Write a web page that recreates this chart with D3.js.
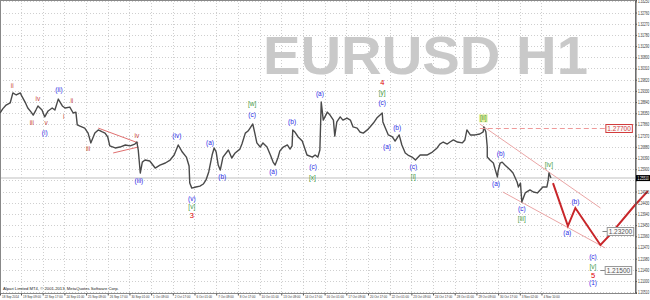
<!DOCTYPE html>
<html>
<head>
<meta charset="utf-8">
<script src="https://cdnjs.cloudflare.com/ajax/libs/d3/7.8.5/d3.min.js"></script>
<style>
body { margin: 0; background: #fff; }
svg { display: block; font-family: "Liberation Sans", Arial, sans-serif; }
</style>
</head>
<body>
<div id="chart"></div>
<script>
// EURUSD H1, bar index (hours since 18 Sep 2014) and close
let eurusd = [[0,1.2836],[4,1.2854],[9,1.2871],[15,1.2880],[19,1.2924],[24,1.2915],[30,1.2924],[32,1.2911],[37,1.2884],[41,1.2858],[46,1.2840],[49,1.2827],[53,1.2849],[56,1.2867],[62,1.2849],[66,1.2819],[71,1.2845],[77,1.2858],[81,1.2849],[86,1.2897],[92,1.2867],[96,1.2858],[103,1.2862],[108,1.2836],[112,1.2840],[114,1.2784],[118,1.2779],[125,1.2770],[130,1.2748],[134,1.2705],[140,1.2748],[145,1.2762],[151,1.2753],[155,1.2748],[159,1.2731],[162,1.2692],[170,1.2683],[177,1.2687],[185,1.2696],[192,1.2692],[199,1.2700],[202,1.2709],[204,1.2674],[207,1.2573],[210,1.2621],[214,1.2630],[221,1.2626],[229,1.2595],[236,1.2608],[244,1.2617],[251,1.2630],[257,1.2652],[263,1.2696],[269,1.2665],[275,1.2643],[279,1.2604],[280,1.2529],[283,1.2507],[289,1.2512],[295,1.2516],[300,1.2525],[304,1.2543],[308,1.2578],[313,1.2652],[316,1.2683],[319,1.2665],[322,1.2608],[325,1.2586],[329,1.2643],[337,1.2674],[342,1.2639],[347,1.2661],[354,1.2678],[357,1.2700],[362,1.2748],[366,1.2757],[369,1.2770],[373,1.2788],[376,1.2748],[379,1.2705],[384,1.2687],[388,1.2705],[394,1.2687],[399,1.2652],[403,1.2621],[406,1.2608],[410,1.2639],[413,1.2670],[418,1.2687],[424,1.2696],[428,1.2678],[431,1.2692],[432,1.2762],[435,1.2753],[440,1.2731],[446,1.2713],[450,1.2678],[453,1.2652],[461,1.2643],[465,1.2652],[469,1.2643],[472,1.2674],[474,1.2884],[477,1.2805],[483,1.2840],[487,1.2827],[492,1.2805],[494,1.2735],[497,1.2797],[502,1.2819],[506,1.2805],[512,1.2814],[517,1.2805],[521,1.2775],[527,1.2770],[531,1.2753],[536,1.2748],[542,1.2762],[546,1.2775],[551,1.2792],[556,1.2814],[564,1.2836],[565,1.2797],[568,1.2775],[573,1.2740],[579,1.2731],[583,1.2713],[589,1.2740],[593,1.2696],[598,1.2661],[602,1.2652],[608,1.2643],[613,1.2630],[620,1.2652],[630,1.2652],[638,1.2665],[645,1.2683],[649,1.2700],[654,1.2709],[660,1.2700],[664,1.2709],[669,1.2718],[675,1.2709],[682,1.2705],[686,1.2718],[689,1.2762],[694,1.2740],[701,1.2740],[708,1.2744],[713,1.2753],[714,1.2775],[717,1.2753],[719,1.2687],[719,1.2643],[723,1.2630],[728,1.2617],[731,1.2586],[734,1.2556],[735,1.2582],[738,1.2617],[741,1.2621],[745,1.2608],[753,1.2586],[757,1.2573],[763,1.2534],[765,1.2512],[768,1.2529],[770,1.2446],[775,1.2486],[782,1.2499],[787,1.2490],[793,1.2486],[797,1.2499],[801,1.2512],[807,1.2512],[809,1.2543],[810,1.2573],[813,1.2551]];

// projected path (red)
let projection = [[816,1.2529],[838,1.2341],[849,1.2420],[886,1.2258],[900,1.2302],[937,1.2433],[956,1.2494]];

// trend lines: [bar1, price1, bar2, price2]
let channelLines = [[708,1.2788,886,1.2420],[742,1.2490,893,1.2245]];
let triangleLines = [[145,1.2770,204,1.2705],[167,1.2661,204,1.2687]];

// target levels
let levelPrices = [1.27700, 1.23200, 1.21500];
let levelStart = [708, 889, 886];
let levelBoxAt = [894, 896, 893];

// wave labels: bar, price, text, degree
let waveBars = [18,47,56,68,66,87,94,106,130,202,205,261,283,283,283,310,328,372,372,403,431,462,461,472,564,564,564,571,586,610,610,713,732,739,770,770,810,837,849,875,875,875,875];
let wavePrices = [1.2954,1.2792,1.2897,1.2792,1.2748,1.2937,1.2819,1.2889,1.2678,1.2735,1.2538,1.2735,1.2459,1.2424,1.2389,1.2705,1.2556,1.2876,1.2827,1.2578,1.2797,1.2600,1.2551,1.2919,1.2972,1.2924,1.2880,1.2687,1.2770,1.2600,1.2556,1.2814,1.2525,1.2656,1.2416,1.2372,1.2608,1.2310,1.2446,1.2205,1.2162,1.2127,1.2091];
let waveTexts = ["ii","iii","iv","v","(i)","(ii)","i","ii","iii","iv","(iii)","(iv)","(v)","[v]","3","(a)","(b)","[w]","(c)","(a)","(b)","(c)","[x]","(a)","4","[y]","(c)","(a)","(b)","(c)","[i]","[ii]","(a)","(b)","(c)","[iii]","[iv]","(a)","(b)","(c)","[v]","5","(1)"];
let waveDegrees = ["sub","sub","sub","sub","minute","minute","sub","sub","sub","sub","minute","minute","minute","minor","inter","minute","minute","minor","minute","minute","minute","minute","minor","minute","inter","minor","minute","minute","minute","minute","minor","minor","minute","minute","minute","minor","minor","minute","minute","minute","minor","inter","minute"];
let selectedLabel = "[ii]";

let priceTicks = [1.33250,1.32760,1.32270,1.31780,1.31290,1.30800,1.30310,1.29820,1.29330,1.28840,1.28350,1.27860,1.27370,1.26880,1.26390,1.25900,1.25410,1.24920,1.24430,1.23940,1.23450,1.22960,1.22470,1.21980,1.21490,1.21000,1.20510];
let timeLabels = ["18 Sep 2014","19 Sep 09:00","22 Sep 17:00","24 Sep 01:00","25 Sep 09:00","26 Sep 17:00","30 Sep 01:00","1 Oct 09:00","2 Oct 17:00","6 Oct 01:00","7 Oct 09:00","8 Oct 17:00","10 Oct 01:00","13 Oct 09:00","14 Oct 17:00","16 Oct 01:00","17 Oct 09:00","20 Oct 17:00","22 Oct 01:00","23 Oct 09:00","24 Oct 17:00","28 Oct 01:00","29 Oct 09:00","30 Oct 17:00","3 Nov 02:00","4 Nov 10:00"];
let timeTickBars = timeLabels.map(function (d, i) { return i === 0 ? 0 : 32 * i - 1; });

let degreeColor = { sub: "#c84a3c", minute: "#2c2ce6", minor: "#3f9a3f", inter: "#e00000" };

let margin = { top: 0, right: 15, bottom: 7, left: 0 };
let width = 650 - margin.left - margin.right;
let height = 300 - margin.top - margin.bottom;
let squeeze = 0.7;   // MT4 axis font is narrow

let svg = d3.select('#chart')
    .append('svg')
    .attr('width', 650)
    .attr('height', 300)
    .append('g')
    .attr('transform', 'translate(' + margin.left + ',' + margin.top + ')');

let x = d3.scaleLinear().domain([0, 937]).range([0, width]);
let y = d3.scaleLinear().domain([1.3331 - height * 0.000438, 1.3331]).range([height, 0]);

// grid
svg.append('g').selectAll('line.h')
    .data(priceTicks).enter().append('line')
    .attr('x1', 0).attr('x2', width)
    .attr('y1', function (d) { return Math.round(y(d)) + 0.5; })
    .attr('y2', function (d) { return Math.round(y(d)) + 0.5; })
    .style('stroke', '#cfcfcf').style('stroke-dasharray', '1,2');
svg.append('g').selectAll('line.v')
    .data(timeTickBars.slice(1)).enter().append('line')
    .attr('y1', 0).attr('y2', height)
    .attr('x1', function (d) { return Math.round(x(d)) + 0.5; })
    .attr('x2', function (d) { return Math.round(x(d)) + 0.5; })
    .style('stroke', '#cfcfcf').style('stroke-dasharray', '1,2');

// watermark
svg.append('text')
    .attr('x', 263).attr('y', 74)
    .attr('textLength', 325).attr('lengthAdjust', 'spacingAndGlyphs')
    .style('font-size', '54px').style('font-weight', 'bold')
    .style('fill', '#c9c9c9')
    .text('EURUSD H1');

// current price line
let last = eurusd[eurusd.length - 1];
svg.append('line')
    .attr('x1', 0).attr('x2', width)
    .attr('y1', y(last[1])).attr('y2', y(last[1]))
    .style('stroke', '#d4d4d4').style('stroke-width', 1.5);

// frame
svg.append('rect')
    .attr('x', 0.5).attr('y', 0.5).attr('width', width).attr('height', height)
    .style('fill', 'none').style('stroke', '#888');

// triangle and channel lines
svg.append('g').selectAll('line')
    .data(triangleLines.concat(channelLines)).enter().append('line')
    .attr('x1', function (d) { return x(d[0]); })
    .attr('y1', function (d) { return y(d[1]); })
    .attr('x2', function (d) { return x(d[2]); })
    .attr('y2', function (d) { return y(d[3]); })
    .style('stroke', function (d, i) { return i < triangleLines.length ? '#e07070' : '#eaa5a5'; })
    .style('stroke-width', 1);

// price line
let line = d3.line()
    .x(function (d) { return x(d[0]); })
    .y(function (d) { return y(d[1]); });
svg.append('path')
    .datum(eurusd)
    .attr('d', line)
    .style('fill', 'none').style('stroke', '#4a4a4a').style('stroke-width', 1.4)
    .style('stroke-linejoin', 'round');

// projection
svg.append('path')
    .datum(projection)
    .attr('d', line)
    .style('fill', 'none').style('stroke', '#c8262a').style('stroke-width', 2);

// levels
levelPrices.forEach(function (p, i) {
    let yy = Math.round(y(p)) + 0.5;
    let g = svg.append('g');
    g.append('line')
        .attr('x1', x(levelStart[i])).attr('x2', x(levelBoxAt[i]))
        .attr('y1', yy).attr('y2', yy)
        .style('stroke', i === 0 ? '#ee9a9a' : '#888')
        .style('stroke-dasharray', i === 0 ? '5,3' : null);
    let t = g.append('text')
        .attr('x', x(levelBoxAt[i]) + 1.5).attr('y', yy + 2.3)
        .style('font-size', '6.5px')
        .style('fill', i === 0 ? '#d23c3c' : '#555')
        .text(d3.format('.5f')(p));
    let w = t.node().getComputedTextLength();
    g.insert('rect', 'text')
        .attr('x', x(levelBoxAt[i])).attr('y', yy - 4)
        .attr('width', w + 3).attr('height', 8)
        .style('fill', '#fafafa').style('stroke', i === 0 ? '#d23c3c' : '#999');
});

// wave labels
waveTexts.forEach(function (txt, i) {
    let big = waveDegrees[i] === 'inter';
    let t = svg.append('text')
        .attr('x', x(waveBars[i])).attr('y', y(wavePrices[i]))
        .attr('text-anchor', 'middle').attr('dy', '0.35em')
        .style('font-size', big ? '7.5px' : '6.5px')
        .style('fill', degreeColor[waveDegrees[i]])
        .text(txt);
    if (txt === selectedLabel) {
        let b = t.node().getBBox();
        svg.insert('rect', 'text')
            .attr('x', b.x - 1).attr('y', b.y).attr('width', b.width + 2).attr('height', b.height)
            .style('fill', '#e8f0a0');
    }
});

// price axis (the label under the current price box is hidden, as in MT4)
let yAxis = svg.append('g')
    .attr('transform', 'translate(' + (width + 0.5) + ',0)')
    .call(d3.axisRight(y).tickValues(priceTicks).tickFormat(d3.format('.5f')).tickSize(1.5).tickPadding(1));
yAxis.select('.domain').style('stroke', '#555');
yAxis.selectAll('text')
    .attr('x', 2.5 / squeeze)
    .attr('transform', 'scale(' + squeeze + ',1)')
    .style('font-size', '4.5px').style('fill', '#333')
    .style('display', function (d) { return Math.abs(y(d) - y(last[1])) < 5 ? 'none' : null; });
yAxis.selectAll('line').style('stroke', '#555');

// current price box
let cp = svg.append('g').attr('transform', 'translate(' + (width + 1) + ',' + y(last[1]) + ')');
cp.append('rect').attr('x', 0).attr('y', -3).attr('width', 14).attr('height', 6).style('fill', '#000');
cp.append('text').attr('x', 1.5 / squeeze).attr('y', 1.6)
    .attr('transform', 'scale(' + squeeze + ',1)')
    .style('font-size', '4.5px').style('fill', '#fff')
    .text(d3.format('.5f')(last[1]));

// time axis
let xAxis = svg.append('g')
    .attr('transform', 'translate(0,' + (height + 0.5) + ')')
    .call(d3.axisBottom(x).tickValues(timeTickBars).tickFormat(function (d, i) { return timeLabels[i]; }).tickSize(2));
xAxis.select('.domain').remove();
xAxis.selectAll('text').attr('text-anchor', 'start').attr('x', 1.5 / squeeze).attr('y', 1)
    .attr('transform', 'scale(' + squeeze + ',1)')
    .style('font-size', '4.3px').style('fill', '#333');
xAxis.selectAll('line').style('stroke', '#555');

// copyright
svg.append('text')
    .attr('x', 3).attr('y', height - 3)
    .style('font-size', '4.2px').style('fill', '#222')
    .text('Alpari Limited MT4, \u00a9 2001-2013, MetaQuotes Software Corp.');
</script>
</body>
</html>
